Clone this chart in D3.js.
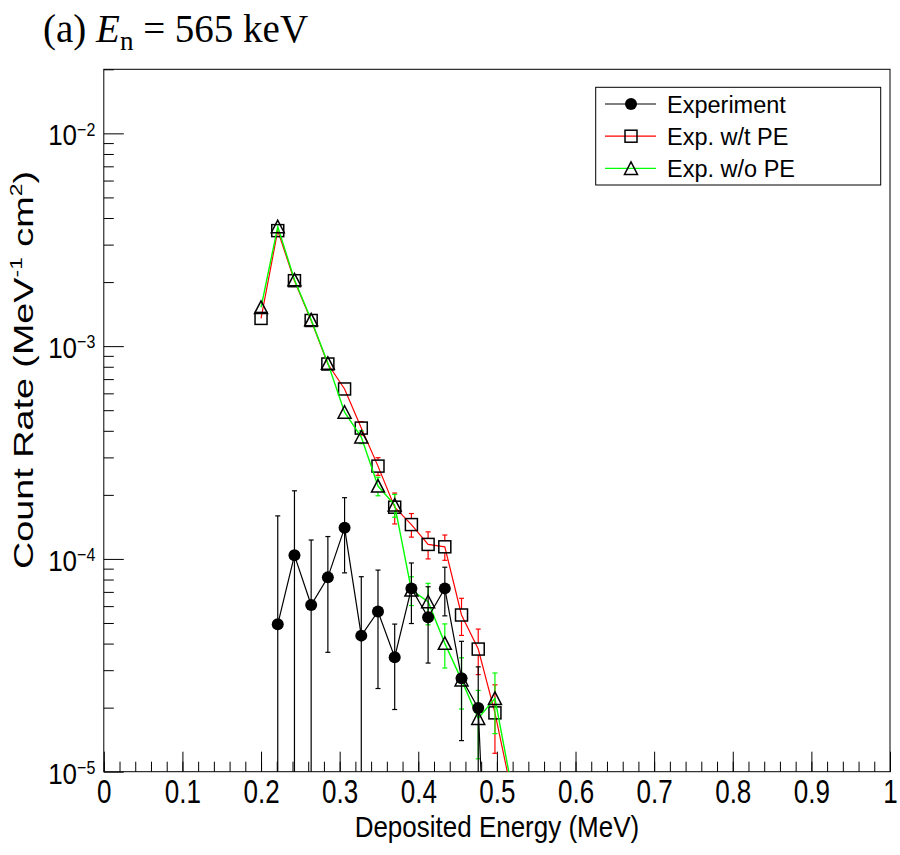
<!DOCTYPE html>
<html><head><meta charset="utf-8">
<script src="https://cdn.jsdelivr.net/npm/d3@7"></script>
<style>body{margin:0;background:#fff}svg{display:block}</style>
</head><body>
<svg id="c" width="900" height="855"></svg>
<script>
// ---- data ----
const energy = [0.2, 0.22125, 0.2425, 0.26375, 0.285, 0.30625, 0.3275, 0.34875, 0.37, 0.39125, 0.4125, 0.43375, 0.455, 0.47625, 0.4975, 0.51875];
const withPE = [1.35e-3, 3.49e-3, 2.03e-3, 1.32e-3, 8.24e-4, 6.29e-4, 4.12e-4, 2.73e-4, 1.75e-4, 1.45e-4, 1.17e-4, 1.14e-4, 5.45e-5, 3.77e-5, 1.89e-5, 8.0e-6];
const withPEErr = [4e-5, 9e-5, 6e-5, 5e-5, 4e-5, 3.5e-5, 3e-5, 2.6e-5, 2.9e-5, 1.84e-5, 1.7e-5, 1.55e-5, 1.08e-5, 9.1e-6, 6.7e-6, 0];
const withoutPE = [1.52e-3, 3.64e-3, 2.05e-3, 1.33e-3, 8.30e-4, 4.89e-4, 3.74e-4, 2.20e-4, 1.79e-4, 7.14e-5, 6.29e-5, 4.01e-5, 2.70e-5, 1.78e-5, 2.21e-5, 8.5e-6];
const withoutPEErr = [4e-5, 9e-5, 6e-5, 5e-5, 4e-5, 3e-5, 2.6e-5, 2.2e-5, 2.2e-5, 1.1e-5, 1.39e-5, 9.4e-6, 7.3e-6, 6.3e-6, 7.0e-6, 0];
const expEnergy = [0.22125, 0.2425, 0.26375, 0.285, 0.30625, 0.3275, 0.34875, 0.37, 0.39125, 0.4125, 0.43375, 0.455, 0.47625, 0.4975];
const experiment = [4.93e-5, 1.04e-4, 6.07e-5, 8.19e-5, 1.40e-4, 4.36e-5, 5.66e-5, 3.45e-5, 7.27e-5, 5.32e-5, 7.27e-5, 2.75e-5, 1.99e-5, 3e-7];
const experimentErr = [1.10e-4, 1.05e-4, 6.2e-5, 4.55e-5, 5.4e-5, 3.89e-5, 3.2e-5, 1.49e-5, 2.3e-5, 2.08e-5, 1.87e-5, 1.35e-5, 1.12e-5, 0];
const xTicks = [0, 0.1, 0.2, 0.3, 0.4, 0.5, 0.6, 0.7, 0.8, 0.9, 1];
const xTickLabels = ["0", "0.1", "0.2", "0.3", "0.4", "0.5", "0.6", "0.7", "0.8", "0.9", "1"];
const yTicks = [1e-5, 1e-4, 1e-3, 1e-2];
const yTickExp = ["\u22125", "\u22124", "\u22123", "\u22122"];
const legendLabels = ["Experiment", "Exp. w/t PE", "Exp. w/o PE"];

// ---- layout ----
const L = 103.8, R = 890, T = 69.3, B = 771.7;
const x = d3.scaleLinear().domain([0, 1]).range([L, R]);
const y = d3.scaleLog().domain([1e-5, 0.02]).range([B, T]);
const svg = d3.select("#c");
const sans = "'Liberation Sans', Arial, Helvetica, sans-serif";
const GREEN = "#00ff00";

svg.append("defs").append("clipPath").attr("id", "clip")
  .append("rect").attr("x", L).attr("y", T).attr("width", R - L).attr("height", B - T);

// frame
svg.append("rect").attr("x", L).attr("y", T).attr("width", R - L).attr("height", B - T)
  .attr("fill", "none").attr("stroke", "#000").attr("stroke-width", 1);

// x axis
const minorX = d3.range(0, 51).map(i => i / 50);
const gxm = svg.append("g").attr("transform", `translate(0,${B})`)
  .call(d3.axisBottom(x).tickValues(minorX).tickSize(-10).tickFormat(""));
gxm.select(".domain").remove();
const gx = svg.append("g").attr("transform", `translate(0,${B})`)
  .call(d3.axisBottom(x).tickValues(xTicks).tickSize(-20).tickFormat(""));
gx.select(".domain").remove();
gx.selectAll(".tick").each(function (d, i) {
  d3.select(this).append("text").attr("transform", "translate(0,31) scale(1,1.25)")
    .attr("text-anchor", "middle").attr("font-family", sans).attr("font-size", 26).attr("fill", "#000")
    .text(xTickLabels[i]);
});
svg.selectAll(".tick line").attr("stroke", "#000");

// y axis
const minorY = [];
for (let k = -5; k <= -2; k++) for (let m = 2; m <= 9; m++) { const v = m * Math.pow(10, k); if (v <= 0.02) minorY.push(v); }
const gym = svg.append("g").attr("transform", `translate(${L},0)`)
  .call(d3.axisLeft(y).tickValues(minorY).tickSize(-10).tickFormat(""));
gym.select(".domain").remove();
const gy = svg.append("g").attr("transform", `translate(${L},0)`)
  .call(d3.axisLeft(y).tickValues(yTicks).tickSize(-20).tickFormat(""));
gy.select(".domain").remove();
svg.selectAll(".tick line").attr("stroke", "#000");
gy.selectAll(".tick").each(function (d, i) {
  const t = d3.select(this).append("text").attr("transform", "translate(-8.5,11.5) scale(1,1.15)")
    .attr("text-anchor", "end").attr("font-family", sans).attr("fill", "#000").attr("font-size", 26);
  t.append("tspan").text("10");
  t.append("tspan").attr("font-size", 16).attr("dy", -8.5).text(yTickExp[i]);
});

// axis titles
svg.append("text").attr("transform", `translate(${(L + R) / 2},837) scale(1,1.15)`).attr("text-anchor", "middle")
  .attr("font-family", sans).attr("font-size", 26).attr("fill", "#000").text("Deposited Energy (MeV)");
const yt = svg.append("text").attr("transform", `translate(33,370) rotate(-90)`)
  .attr("text-anchor", "middle").attr("font-family", sans).attr("font-size", 28).attr("fill", "#000")
  .attr("textLength", 398).attr("lengthAdjust", "spacingAndGlyphs");
yt.append("tspan").text("Count Rate (MeV");
yt.append("tspan").attr("font-size", 17).attr("dy", -11).text("-1");
yt.append("tspan").attr("dy", 11).text(" cm");
yt.append("tspan").attr("font-size", 17).attr("dy", -11).text("2");
yt.append("tspan").attr("dy", 11).text(")");

// title
const tt = svg.append("text").attr("x", 43).attr("y", 42).attr("font-family", "'Liberation Serif', 'Times New Roman', serif")
  .attr("font-size", 39).attr("fill", "#000");
tt.append("tspan").text("(a) ");
tt.append("tspan").attr("font-style", "italic").text("E");
tt.append("tspan").attr("font-size", 27).attr("dy", 8).text("n");
tt.append("tspan").attr("dy", -8).text(" = 565 keV");

// ---- markers ----
const H = 6;
function marker(g, type, cx, cy) {
  if (type === "circle") g.append("circle").attr("cx", cx).attr("cy", cy).attr("r", H).attr("fill", "#000");
  else if (type === "square") g.append("rect").attr("x", cx - H).attr("y", cy - H).attr("width", 2 * H).attr("height", 2 * H)
    .attr("fill", "none").attr("stroke", "#000").attr("stroke-width", 1.5);
  else g.append("path").attr("d", `M${cx},${cy - H - 0.5}L${cx + H + 0.5},${cy + H}L${cx - H - 0.5},${cy + H}Z`)
    .attr("fill", "none").attr("stroke", "#000").attr("stroke-width", 1.5).attr("stroke-linejoin", "miter");
}

function series(xs, vs, es, color, type, lw, gap) {
  const g = svg.append("g");
  const pts = xs.map((e, i) => ({ e, v: vs[i], err: es[i] }));
  g.append("path").datum(pts).attr("clip-path", "url(#clip)")
    .attr("d", d3.line().x(d => x(d.e)).y(d => y(d.v)))
    .attr("fill", "none").attr("stroke", color).attr("stroke-width", lw);
  const eg = g.append("g").attr("clip-path", "url(#clip)").attr("stroke", color).attr("stroke-width", 1.2);
  pts.forEach(d => {
    if (!(d.err > 0)) return;
    const cx = x(d.e), cy = y(d.v);
    const top = y(d.v + d.err);
    const lo = d.v - d.err;
    const bot = lo > 1e-5 ? y(lo) : B + 2;
    if (top < cy - gap) {
      eg.append("line").attr("x1", cx).attr("x2", cx).attr("y1", top).attr("y2", cy - gap);
      eg.append("line").attr("x1", cx - 2.5).attr("x2", cx + 2.5).attr("y1", top).attr("y2", top);
    }
    if (bot > cy + gap) {
      eg.append("line").attr("x1", cx).attr("x2", cx).attr("y1", cy + gap).attr("y2", bot);
      if (lo > 1e-5) eg.append("line").attr("x1", cx - 2.5).attr("x2", cx + 2.5).attr("y1", bot).attr("y2", bot);
    }
  });
  const mg = g.append("g");
  pts.filter(d => d.v >= 1e-5).forEach(d => marker(mg, type, x(d.e), y(d.v)));
}

series(energy, withPE, withPEErr, "#ff0000", "square", 1.2, 6);
series(energy, withoutPE, withoutPEErr, GREEN, "triangle", 1.4, 6);
series(expEnergy, experiment, experimentErr, "#000000", "circle", 1.2, 3);

// ---- legend ----
const lg = svg.append("g");
lg.append("rect").attr("x", 595.7).attr("y", 87.3).attr("width", 285).attr("height", 97.7)
  .attr("fill", "#fff").attr("stroke", "#000").attr("stroke-width", 1);
const legColors = ["#000000", "#ff0000", GREEN];
const legTypes = ["circle", "square", "triangle"];
legendLabels.forEach((lab, i) => {
  const ry = 104 + i * 32.2;
  lg.append("line").attr("x1", 605).attr("x2", 656).attr("y1", ry).attr("y2", ry)
    .attr("stroke", legColors[i]).attr("stroke-width", 1.2);
  marker(lg, legTypes[i], 631, ry);
  lg.append("text").attr("x", 667).attr("y", ry + 8.5).attr("font-family", sans).attr("font-size", 23.5)
    .attr("fill", "#000").text(lab);
});
</script>
</body></html>
